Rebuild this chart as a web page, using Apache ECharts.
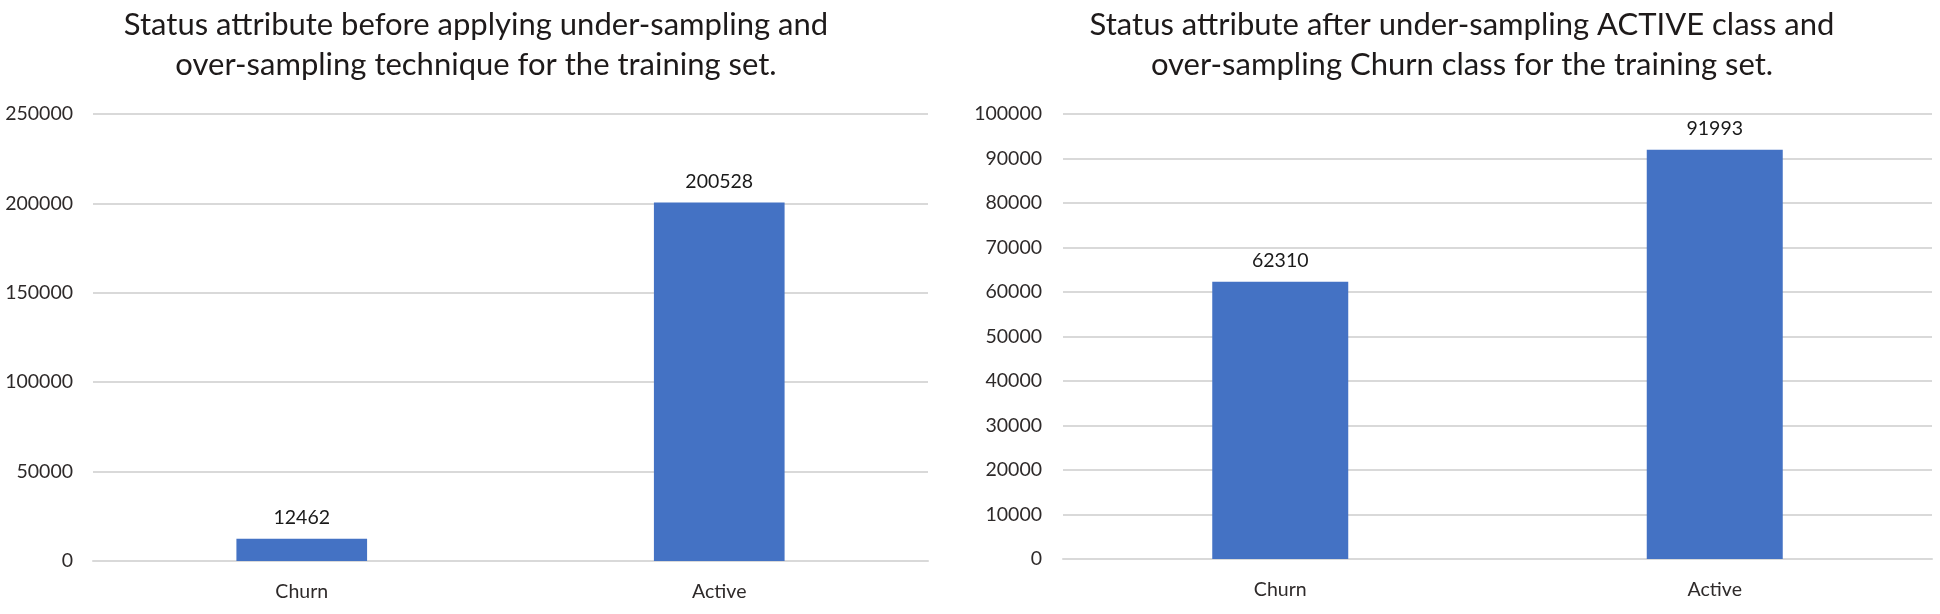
<!DOCTYPE html>
<html>
<head>
<meta charset="utf-8">
<script src="https://cdn.jsdelivr.net/npm/echarts@6/dist/echarts.min.js"></script>
<style>
html,body{margin:0;padding:0;background:#fff;}
#c{width:1940px;height:614px;}
</style>
</head>
<body>
<div id="c"></div>
<script>
const categories = ['Churn', 'Active'];
const beforeValues = [12462, 200528];
const afterValues = [62310, 91993];
const leftTitleLines = ['Status attribute before applying under-sampling and', 'over-sampling technique for the training set.'];
const rightTitleLines = ['Status attribute after under-sampling ACTIVE class and', 'over-sampling Churn class for the training set.'];

const FONT = 'Lato';
const BAR = '#4472C4';
const GRID = '#d9d9d9';
const TXT = '#2e2a2a';

const chart = echarts.init(document.getElementById('c'));
function xAxis(idx){
  return {
    type:'category', gridIndex:idx, data:categories,
    axisLine:{show:true, lineStyle:{color:GRID, width:2}},
    axisTick:{show:false},
    axisLabel:{color:TXT, fontFamily:FONT, fontSize:19.5, margin:21}
  };
}
function yAxis(idx, max, interval, margin){
  return {
    type:'value', gridIndex:idx, min:0, max:max, interval:interval,
    axisLine:{show:false}, axisTick:{show:false},
    axisLabel:{color:TXT, fontFamily:FONT, fontSize:19.5, margin:margin, formatter:function(v){return String(v);}},
    splitLine:{lineStyle:{color:GRID, width:2}}
  };
}
function series(idx, data){
  return {
    type:'bar', xAxisIndex:idx, yAxisIndex:idx, data:data, barWidth:'31.3%',
    itemStyle:{color:BAR},
    label:{show:true, position:'top', distance:11, color:'#1a1a1a', fontFamily:FONT, fontSize:19.5},
    animation:false
  };
}
const titleStyle = {fontFamily:FONT, fontSize:31, fontWeight:'normal', color:'#1e1a1a', lineHeight:40};
chart.setOption({
  animation:false,
  title:[
    {text:leftTitleLines.join('\n'), left:471, top:0, textAlign:'center', textStyle:titleStyle},
    {text:rightTitleLines.join('\n'), left:1457, top:0, textAlign:'center', textStyle:titleStyle}
  ],
  grid:[
    {left:93, width:835, top:114, bottom:53},
    {left:1063, width:869, top:114, bottom:55}
  ],
  xAxis:[xAxis(0), xAxis(1)],
  yAxis:[yAxis(0, 250000, 50000, 20), yAxis(1, 100000, 10000, 21)],
  series:[series(0, beforeValues), series(1, afterValues)]
});
</script>
</body>
</html>
